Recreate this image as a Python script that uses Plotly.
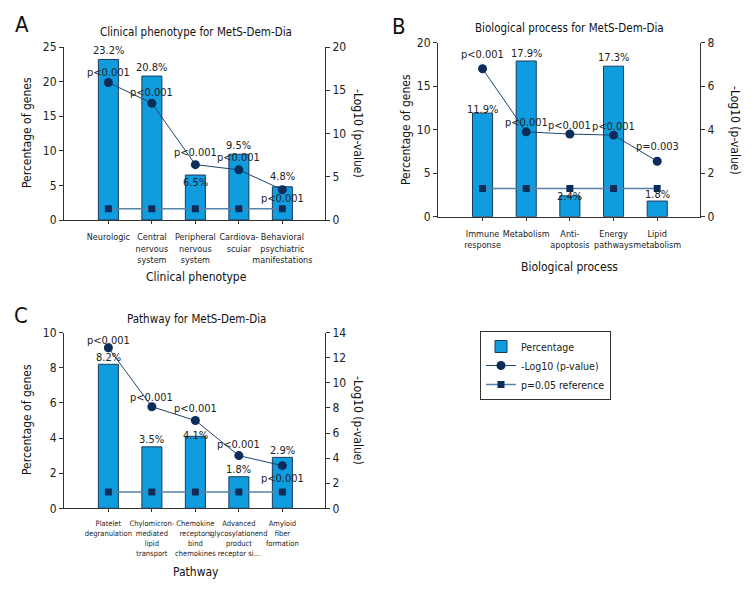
import plotly.graph_objects as go

# ---------------- data ----------------
cats_a = ["Neurologic", "Central<br>nervous<br>system", "Peripheral<br>nervous<br>system",
          "Cardiova-<br>scuiar", "Behavioral<br>psychiatric<br>manifestations"]
pct_a = [23.2, 20.8, 6.5, 9.5, 4.8]
logp_a = [15.9, 13.5, 6.4, 5.8, 3.5]
plab_a = ["p<0.001", "p<0.001", "p<0.001", "p<0.001", "p<0.001"]

cats_b = ["Immune<br>response", "Metabolism", "Anti-<br>apoptosis", "Energy<br>pathways", "Lipid<br>metabolism"]
pct_b = [11.9, 17.9, 2.4, 17.3, 1.8]
logp_b = [6.8, 3.9, 3.8, 3.75, 2.55]
plab_b = ["p<0.001", "p<0.001", "p<0.001", "p<0.001", "p=0.003"]

cats_c = ["Platelet<br>degranulation", "Chylomicron-<br>mediated<br>lipid<br>transport",
          "Chemokine<br>receptors<br>bind<br>chemokines",
          "Advanced<br>glycosylationend<br>product<br>receptor si...", "Amyloid<br>fiber<br>formation"]
pct_c = [8.2, 3.5, 4.1, 1.8, 2.9]
logp_c = [12.8, 8.1, 7.0, 4.2, 3.4]
plab_c = ["p<0.001", "p<0.001", "p<0.001", "p<0.001", "p<0.001"]

ref_val = 1.3  # -log10(0.05)

# label offsets (px) – styling only
pct_shift_a = [9, 9, -7, 9, 10]
p_shift_a = [10, 11, 12, 12, -9]
pct_shift_b = [4, 7, -1, 9, 7]
p_shift_b = [14, 9, 9, 9, 15]
pct_shift_c = [7, 7, 1, 7, 7]
p_shift_c = [7, 9, 12, 11, -13]

FONT = "DejaVu Sans Condensed, sans-serif"
BAR = "#0f9ddf"
BAR_LINE = "#1d3a5c"
LINE = "#1f4470"
MARK = "#0c2d5a"
REF_LINE = "#5581aa"
W, H = 756, 600

fig = go.Figure()

panels = [
    dict(cats=cats_a, pct=pct_a, logp=logp_a, plab=plab_a, xa="x", ya="y", ya2="y2",
         ps=pct_shift_a, qs=p_shift_a),
    dict(cats=cats_b, pct=pct_b, logp=logp_b, plab=plab_b, xa="x2", ya="y3", ya2="y4",
         ps=pct_shift_b, qs=p_shift_b),
    dict(cats=cats_c, pct=pct_c, logp=logp_c, plab=plab_c, xa="x3", ya="y5", ya2="y6",
         ps=pct_shift_c, qs=p_shift_c),
]

annotations = []
for i, p in enumerate(panels):
    first = i == 0
    fig.add_trace(go.Bar(x=p["cats"], y=p["pct"], xaxis=p["xa"], yaxis=p["ya"], width=0.46,
                         marker=dict(color=BAR, line=dict(color=BAR_LINE, width=1)),
                         name="Percentage", showlegend=first, legendrank=1))
    fig.add_trace(go.Scatter(x=p["cats"], y=p["logp"], xaxis=p["xa"], yaxis=p["ya2"],
                             mode="lines+markers", line=dict(color=LINE, width=1),
                             marker=dict(color=MARK, size=9, symbol="circle"),
                             name="-Log10 (p-value)", showlegend=first, legendrank=2))
    fig.add_trace(go.Scatter(x=p["cats"], y=[ref_val] * len(p["cats"]), xaxis=p["xa"], yaxis=p["ya2"],
                             mode="lines+markers", line=dict(color=REF_LINE, width=1.5),
                             marker=dict(color=MARK, size=7, symbol="square"),
                             name="p=0.05 reference", showlegend=first, legendrank=3))
    for c, v, s in zip(p["cats"], p["pct"], p["ps"]):
        annotations.append(dict(x=c, y=v, xref=p["xa"], yref=p["ya"], text=f"{v}%",
                                showarrow=False, yshift=s, font=dict(size=11, color="#222")))
    for c, v, t, s in zip(p["cats"], p["logp"], p["plab"], p["qs"]):
        annotations.append(dict(x=c, y=v, xref=p["xa"], yref=p["ya2"], text=t,
                                showarrow=False, yshift=s, font=dict(size=11, color="#222")))


def dom_x(l, r):
    return [l / W, r / W]


def dom_y(b, t):
    return [1 - b / H, 1 - t / H]


axis_common = dict(showline=True, linecolor="#333", linewidth=1, showgrid=False, zeroline=False,
                   ticks="outside", ticklen=4, tickcolor="#333", tickfont=dict(size=12, color="#222"),
                   automargin=False)


def x_axis(dom, anchor, size):
    return dict(domain=dom, anchor=anchor, showline=True, linecolor="#333", linewidth=1, showgrid=False,
                zeroline=False, ticks="outside", ticklen=3, tickcolor="#333",
                tickfont=dict(size=size, color="#222"), tickangle=0, automargin=False,
                ticklabelstandoff=5, range=[-1.02, 4.98], type="category")


fig.update_layout(
    xaxis=x_axis(dom_x(64, 325), "y", 9),
    yaxis=dict(domain=dom_y(220, 47), anchor="x", range=[0, 25], dtick=5, **axis_common),
    yaxis2=dict(domain=dom_y(220, 47), anchor="x", overlaying="y", side="right", range=[0, 20], dtick=5,
                **axis_common),
    xaxis2=x_axis(dom_x(438, 700), "y3", 9),
    yaxis3=dict(domain=dom_y(216.7, 42.7), anchor="x2", range=[0, 20], dtick=5, **axis_common),
    yaxis4=dict(domain=dom_y(216.7, 42.7), anchor="x2", overlaying="y3", side="right", range=[0, 8], dtick=2,
                **axis_common),
    xaxis3=x_axis(dom_x(64, 325), "y5", 7.5),
    yaxis5=dict(domain=dom_y(508.3, 332.7), anchor="x3", range=[0, 10], dtick=2, **axis_common),
    yaxis6=dict(domain=dom_y(508.3, 332.7), anchor="x3", overlaying="y5", side="right", range=[0, 14], dtick=2,
                **axis_common),
)


def pa(text, x, y, size, angle=0):
    annotations.append(dict(text=text, x=x / W, y=1 - y / H, xref="paper", yref="paper", showarrow=False,
                            xanchor="center", yanchor="middle", textangle=angle,
                            font=dict(size=size, color="#111")))


# panel letters
pa("A", 22, 25, 22)
pa("B", 399, 26, 22)
pa("C", 21, 315, 22)
# titles
pa("Clinical phenotype for MetS-Dem-Dia", 196, 32, 11.5)
pa("Biological process for MetS-Dem-Dia", 569, 28, 11.5)
pa("Pathway for MetS-Dem-Dia", 196, 319, 11.5)
# x titles
pa("Clinical phenotype", 196, 277, 12)
pa("Biological process", 569, 267, 12)
pa("Pathway", 196, 572, 12)
# y titles
pa("Percentage of genes", 27, 133, 12, -90)
pa("-Log10 (p-value)", 358, 133, 12, 90)
pa("Percentage of genes", 406, 130, 12, -90)
pa("-Log10 (p-value)", 735, 130, 12, 90)
pa("Percentage of genes", 27, 420, 12, -90)
pa("-Log10 (p-value)", 358, 420, 12, 90)

fig.update_layout(
    annotations=annotations,
    width=W, height=H,
    margin=dict(l=0, r=0, t=0, b=0, pad=0),
    paper_bgcolor="white", plot_bgcolor="white",
    font=dict(family=FONT, size=11, color="#222"),
    legend=dict(x=480 / W, y=1 - 331 / H, xanchor="left", yanchor="top",
                bordercolor="#333", borderwidth=1, bgcolor="white",
                font=dict(size=10.5), tracegroupgap=0, itemwidth=30),
)

fig.write_html("out.html", config={"displayModeBar": False},
               post_script="document.body.style.margin='0';")
